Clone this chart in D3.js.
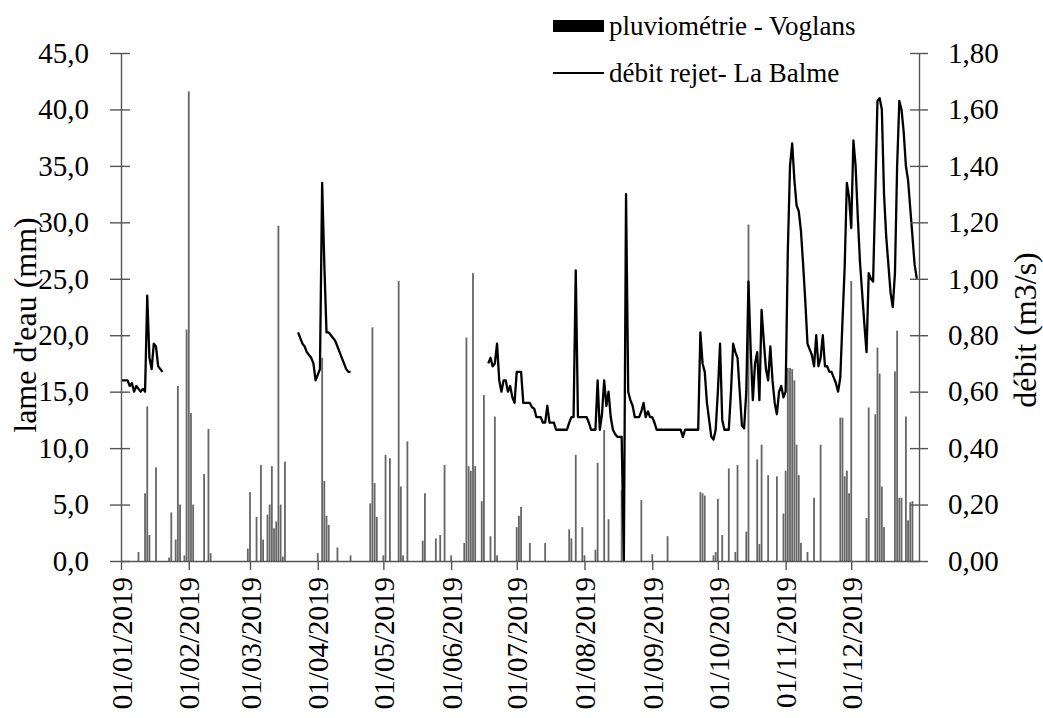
<!DOCTYPE html>
<meta charset="utf-8">

<head>
  <title>pluviométrie - débit</title>
</head>

<style>
  body {
    margin: 0;
    background: #fff;
  }

  text {
    font-family: "Liberation Serif", "Times New Roman", serif;
    fill: #000;
  }

  .bar {
    fill: #666;
  }

  .debit {
    fill: none;
    stroke: #000;
    stroke-width: 2.3;
    stroke-linejoin: round;
  }

  .axis path,
  .axis line {
    stroke: #555;
    stroke-width: 1.4;
  }
</style>

<body>
  <svg width="1043" height="718"></svg>

  <script src="https://cdnjs.cloudflare.com/ajax/libs/d3/7.8.5/d3.min.js"></script>
  <script>
    // pluie journalière (mm), jours non listés = 0
    var rainDates = [
      "09/01", "12/01", "13/01", "14/01", "17/01", "23/01", "24/01", "26/01", "27/01", "28/01", "30/01", "31/01",
      "01/02", "02/02", "03/02", "08/02", "10/02", "11/02", "28/02",
      "01/03", "04/03", "06/03", "07/03", "09/03", "10/03", "11/03", "12/03", "13/03", "14/03", "15/03", "16/03", "17/03",
      "01/04", "03/04", "04/04", "05/04", "06/04", "10/04", "16/04", "25/04", "26/04", "27/04", "28/04",
      "01/05", "02/05", "04/05", "08/05", "09/05", "10/05", "12/05", "19/05", "20/05", "25/05", "27/05", "29/05",
      "01/06", "07/06", "08/06", "09/06", "10/06", "11/06", "12/06", "15/06", "16/06", "19/06", "21/06", "22/06",
      "01/07", "02/07", "03/07", "07/07", "14/07", "25/07", "26/07", "28/07", "31/07",
      "01/08", "06/08", "07/08", "10/08", "12/08", "18/08", "27/08",
      "01/09", "08/09", "23/09", "24/09", "25/09", "29/09", "30/09",
      "01/10", "03/10", "06/10", "09/10", "10/10", "14/10", "15/10", "19/10", "20/10", "21/10", "24/10", "28/10", "31/10",
      "01/11", "02/11", "03/11", "04/11", "05/11", "06/11", "07/11", "08/11", "11/11", "14/11", "17/11",
      "26/11", "27/11", "28/11", "29/11", "30/11",
      "01/12", "08/12", "09/12", "12/12", "13/12", "14/12", "15/12", "16/12", "21/12", "22/12", "23/12", "24/12",
      "26/12", "27/12", "28/12", "29/12"
    ]
    var rainMm = [
      0.8, 6.0, 13.7, 2.3, 8.3, 0.3, 4.3, 1.9, 15.5, 5.0, 0.5, 20.5,
      41.6, 13.1, 5.0, 7.7, 11.7, 0.7, 1.1,
      6.1, 3.9, 8.5, 1.9, 4.1, 5.0, 8.4, 2.9, 3.5, 29.7, 5.0, 0.4, 8.8,
      0.7, 18.0, 7.1, 4.0, 3.2, 1.2, 0.5, 5.1, 20.7, 6.9, 3.9,
      0.5, 9.4, 9.1, 24.8, 6.6, 0.5, 10.6, 1.8, 6.0, 2.0, 2.3, 8.5,
      0.5, 1.6, 19.8, 8.4, 8.0, 25.5, 8.4, 5.3, 14.7, 2.2, 12.8, 0.5,
      3.0, 4.0, 4.8, 1.6, 1.6, 2.8, 2.0, 9.4, 3.0,
      0.5, 1.0, 8.7, 11.6, 3.7, 6.3, 5.4,
      0.6, 2.2, 6.1, 6.0, 5.8, 0.5, 0.8,
      5.5, 2.3, 8.2, 0.8, 8.5, 2.6, 29.8, 9.0, 1.5, 10.3, 7.6, 7.5, 4.2,
      8.0, 17.1, 17.1, 17.0, 16.0, 10.3, 7.6, 1.6, 0.8, 5.6, 10.3,
      12.7, 12.7, 7.5, 8.0, 6.0,
      24.8, 3.8, 13.6, 13.0, 18.9, 16.6, 6.6, 3.0, 16.8, 20.4, 5.6, 5.6,
      12.8, 3.6, 5.2, 5.3
    ]

    // débit journalier (m3/s), trois périodes de mesure
    var debitJanStart = "01/01"
    var debitJan = [0.64, 0.64, 0.64, 0.64, 0.62, 0.63, 0.60, 0.62, 0.61, 0.60, 0.61, 0.60, 0.94, 0.72, 0.68, 0.77,
      0.76, 0.69, 0.68, 0.67]

    var debitMarStart = "23/03"
    var debitMar = [0.81, 0.79, 0.77, 0.76, 0.74, 0.73, 0.72, 0.70, 0.64, 0.66, 0.68, 1.34, 1.05, 0.81, 0.81, 0.80,
      0.79, 0.78, 0.76, 0.74, 0.72, 0.70, 0.68, 0.67, 0.67]

    var debitJunStart = "18/06"
    var debitJun = [
      0.70, 0.72, 0.69, 0.70, 0.77, 0.64, 0.60, 0.64, 0.64, 0.60, 0.62, 0.58, 0.56, 0.67, 0.67, 0.67, 0.56, 0.56, 0.56, 0.56,
      0.545, 0.54, 0.51, 0.51, 0.51, 0.49, 0.49, 0.55, 0.49, 0.49,
      0.49, 0.465, 0.465, 0.465, 0.465, 0.465, 0.465, 0.49, 0.51, 0.51,
      1.03, 0.51, 0.51, 0.51, 0.51, 0.51, 0.49, 0.465, 0.465, 0.465,
      0.64, 0.465, 0.52, 0.64, 0.55, 0.60, 0.51, 0.465, 0.45, 0.44,
      0.44, 0.44, 0.00, 1.30, 0.60, 0.57, 0.55, 0.51, 0.51, 0.51,
      0.53, 0.56, 0.51, 0.53, 0.51, 0.51, 0.49, 0.465, 0.465, 0.465,
      0.465, 0.465, 0.465, 0.465, 0.465, 0.465, 0.465, 0.465, 0.465, 0.44,
      0.465, 0.465, 0.465, 0.465, 0.465, 0.465, 0.465, 0.81, 0.70, 0.67,
      0.56, 0.50, 0.44, 0.43, 0.465, 0.60, 0.77, 0.50, 0.465, 0.465,
      0.465, 0.60, 0.77, 0.74, 0.72, 0.60, 0.48, 0.47, 0.60, 0.99,
      0.75, 0.57, 0.70, 0.74, 0.57, 0.89, 0.78, 0.68, 0.64, 0.76,
      0.64, 0.56, 0.52, 0.60, 0.62, 0.58, 0.60, 1.10, 1.40, 1.48,
      1.35, 1.26, 1.24, 1.17, 1.05, 0.92, 0.77, 0.75, 0.73, 0.69,
      0.80, 0.69, 0.72, 0.80, 0.69, 0.69, 0.67, 0.67, 0.65, 0.63,
      0.60, 0.65, 0.85, 1.04, 1.34, 1.29, 1.18, 1.49, 1.40, 1.22,
      1.06, 0.95, 0.84, 0.74, 1.02, 1.00, 0.99, 1.30, 1.63, 1.64,
      1.60, 1.30, 1.15, 1.05, 0.95, 0.90, 1.02, 1.40, 1.63, 1.60,
      1.52, 1.40, 1.35, 1.25, 1.15, 1.05, 1.00
    ]

    var monthTicks = ["01/01/2019", "01/02/2019", "01/03/2019", "01/04/2019", "01/05/2019", "01/06/2019",
      "01/07/2019", "01/08/2019", "01/09/2019", "01/10/2019", "01/11/2019", "01/12/2019"]
    var lameTicks = [0, 5, 10, 15, 20, 25, 30, 35, 40, 45]
    var debitTicks = [0, 0.2, 0.4, 0.6, 0.8, 1.0, 1.2, 1.4, 1.6, 1.8]

    var parse = d3.timeParse("%d/%m/%Y")
    var day = function(s) {
      return parse(s + "/2019")
    }

    var svg = d3.select("svg")
    var plotLeft = 121,
      plotRight = 919,
      plotTop = 53,
      plotBottom = 561

    var x = d3.scaleTime()
      .domain([parse("01/01/2019"), parse("01/01/2020")])
      .range([plotLeft, plotRight])
    var yL = d3.scaleLinear().domain([0, 45]).range([plotBottom, plotTop])
    var yR = d3.scaleLinear().domain([0, 1.8]).range([plotBottom, plotTop])

    var comma = function(f) {
      return function(v) {
        return d3.format(f)(v).replace(".", ",")
      }
    }

    // barres de pluie
    var rain = rainDates.map(function(d, i) {
      return {
        date: day(d),
        v: rainMm[i]
      }
    })
    svg.append("g")
      .selectAll("rect")
      .data(rain)
      .enter()
      .append("rect")
      .attr("class", "bar")
      .attr("x", function(d) {
        return x(d.date) - 0.9
      })
      .attr("width", 1.8)
      .attr("y", function(d) {
        return yL(d.v)
      })
      .attr("height", function(d) {
        return yL(0) - yL(d.v)
      })

    // courbes de débit
    var line = d3.line()
      .x(function(d) {
        return x(d.date)
      })
      .y(function(d) {
        return yR(d.v)
      })

    function serie(start, values) {
      var t0 = day(start)
      return values.map(function(v, i) {
        return {
          date: d3.timeDay.offset(t0, i),
          v: v
        }
      })
    }

    [
      [debitJanStart, debitJan],
      [debitMarStart, debitMar],
      [debitJunStart, debitJun]
    ].forEach(function(s) {
      svg.append("path")
        .attr("class", "debit")
        .attr("d", line(serie(s[0], s[1])))
    })

    // axes
    var gL = svg.append("g")
      .attr("class", "axis")
      .attr("transform", "translate(" + plotLeft + ",0)")
      .call(d3.axisLeft(yL).tickValues(lameTicks).tickFormat(comma(".1f"))
        .tickSize(0).tickPadding(32))
    gL.selectAll(".tick line").attr("x1", -11).attr("x2", 9)

    var gR = svg.append("g")
      .attr("class", "axis")
      .attr("transform", "translate(" + plotRight + ",0)")
      .call(d3.axisRight(yR).tickValues(debitTicks).tickFormat(comma(".2f"))
        .tickSize(0).tickPadding(29))
    gR.selectAll(".tick line").attr("x1", -9).attr("x2", 9)

    var gX = svg.append("g")
      .attr("class", "axis")
      .attr("transform", "translate(0," + plotBottom + ")")
      .call(d3.axisBottom(x).tickValues(monthTicks.map(parse))
        .tickFormat(d3.timeFormat("%d/%m/%Y")).tickSize(9).tickSizeOuter(0))
    gX.selectAll(".tick text")
      .attr("transform", "rotate(-90)")
      .attr("text-anchor", "end")
      .attr("x", -16)
      .attr("y", 0)
      .attr("dy", "0.35em")

    svg.selectAll(".axis text")
      .style("font-family", '"Liberation Serif", serif')
      .style("font-size", "29px")
      .attr("fill", "#000")

    // titres
    svg.append("text")
      .attr("transform", "translate(36,325) rotate(-90)")
      .attr("text-anchor", "middle")
      .style("font-size", "32px")
      .text("lame d'eau (mm)")

    svg.append("text")
      .attr("transform", "translate(1036,330) rotate(-90)")
      .attr("text-anchor", "middle")
      .style("font-size", "32px")
      .text("débit (m3/s)")

    // légende
    var leg = svg.append("g")
    leg.append("rect")
      .attr("x", 553).attr("y", 20)
      .attr("width", 51).attr("height", 12)
      .attr("fill", "#000")
    leg.append("text")
      .attr("x", 609).attr("y", 35)
      .style("font-size", "27px")
      .text("pluviométrie - Voglans")
    leg.append("line")
      .attr("x1", 553).attr("x2", 604)
      .attr("y1", 73).attr("y2", 73)
      .attr("stroke", "#000").attr("stroke-width", 2)
    leg.append("text")
      .attr("x", 609).attr("y", 82)
      .style("font-size", "27px")
      .text("débit rejet- La Balme")
  </script>
</body>

</html>
